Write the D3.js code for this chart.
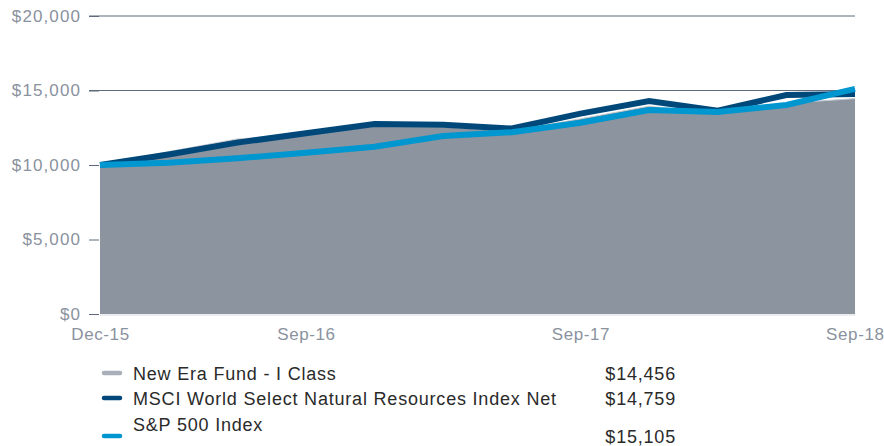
<!DOCTYPE html>
<html><head><meta charset="utf-8">
<script src="https://cdn.jsdelivr.net/npm/d3@7"></script>
<style>body{margin:0;background:#fff;}svg{display:block;}</style>
</head><body>
<script>
const dates = ["Dec-15","Mar-16","Jun-16","Sep-16","Dec-16","Mar-17","Jun-17","Sep-17","Dec-17","Mar-18","Jun-18","Sep-18"];
const xTickLabels = ["Dec-15","Sep-16","Sep-17","Sep-18"];
const fund = [10000,10900,11750,12050,12600,12550,12300,13100,13950,13450,14150,14456];
const msci = [10000,10700,11500,12130,12750,12700,12450,13450,14300,13650,14700,14759];
const sp500 = [10000,10150,10450,10820,11230,11950,12200,12840,13690,13560,14030,15105];
const yTicks = [0,5000,10000,15000,20000];
const legendNames = ["New Era Fund - I Class","MSCI World Select Natural Resources Index Net","S&P 500 Index"];
const legendValues = ["$14,456","$14,759","$15,105"];

const W=884,H=446;
const svg=d3.select("body").append("svg").attr("width",W).attr("height",H);
const x=d3.scalePoint().domain(dates).range([100,855]);
const y=d3.scaleLinear().domain([0,20000]).range([314,16]);
const font="'Liberation Sans', Arial, sans-serif";
const labCol="#8a929e";

// gridlines at 15k and 20k
svg.append("g").selectAll("line").data([15000,20000]).join("line")
  .attr("x1",89).attr("x2",855).attr("y1",d=>y(d)).attr("y2",d=>y(d))
  .attr("stroke","#5f6b7c").attr("stroke-width",1);

// y axis
const yAxis=d3.axisLeft(y).tickValues(yTicks).tickSize(10).tickPadding(8)
  .tickFormat(d=>"$"+d3.format(",")(d));
const ga=svg.append("g").attr("transform","translate(99,0)").call(yAxis);
ga.select(".domain").remove();
ga.selectAll("line").attr("stroke","#5f6b7c");
ga.selectAll("text").attr("fill",labCol).attr("font-family",font).attr("font-size",17)
  .attr("letter-spacing","1.1px");

// area
const area=d3.area().x((d,i)=>x(dates[i])).y0(y(0)).y1(d=>y(d));
svg.append("path").datum(fund).attr("d",area).attr("fill","#8b949f");
svg.append("path").datum(fund).attr("d",d3.line().x((d,i)=>x(dates[i])).y(d=>y(d)))
  .attr("fill","none").attr("stroke","#c9cdd3").attr("stroke-width",1);
svg.append("line").attr("x1",100).attr("x2",855).attr("y1",y(0)+1).attr("y2",y(0)+1).attr("stroke","#d6d9de").attr("stroke-width",1);

const line=d3.line().x((d,i)=>x(dates[i])).y(d=>y(d));
svg.append("path").datum(msci).attr("d",line).attr("fill","none").attr("stroke","#00487a").attr("stroke-width",6);
svg.append("path").datum(sp500).attr("d",line).attr("fill","none").attr("stroke","#0096cf").attr("stroke-width",6);

// x axis labels
const xAxis=d3.axisBottom(x).tickValues(xTickLabels).tickSize(0).tickPadding(14);
const gx=svg.append("g").attr("transform","translate(0,314)").call(xAxis);
gx.select(".domain").remove();
gx.selectAll("text").attr("fill",labCol).attr("font-family",font).attr("font-size",17)
  .attr("letter-spacing","0.6px")
  .attr("text-anchor",(d,i)=>i===3?"end":"middle")
  .attr("dx",(d,i)=>i===3?29:0);

// legend
const lcols=["#a9b0ba","#00487a","#0096cf"];
const sy=[373,398,436], ty=[380,405,431], vy=[380,405,443];
const lg=svg.append("g");
legendNames.forEach((n,i)=>{
  lg.append("line").attr("x1",104).attr("x2",120).attr("y1",sy[i]).attr("y2",sy[i])
    .attr("stroke",lcols[i]).attr("stroke-width",4.5).attr("stroke-linecap","round");
  lg.append("text").attr("x",133).attr("y",ty[i]).text(n)
    .attr("font-family",font).attr("font-size",18).attr("letter-spacing","0.8px").attr("fill","#2a2a2a");
  lg.append("text").attr("x",676).attr("y",vy[i]).attr("text-anchor","end").text(legendValues[i])
    .attr("font-family",font).attr("font-size",18).attr("letter-spacing","0.8px").attr("fill","#2a2a2a");
});
</script>
</body></html>
